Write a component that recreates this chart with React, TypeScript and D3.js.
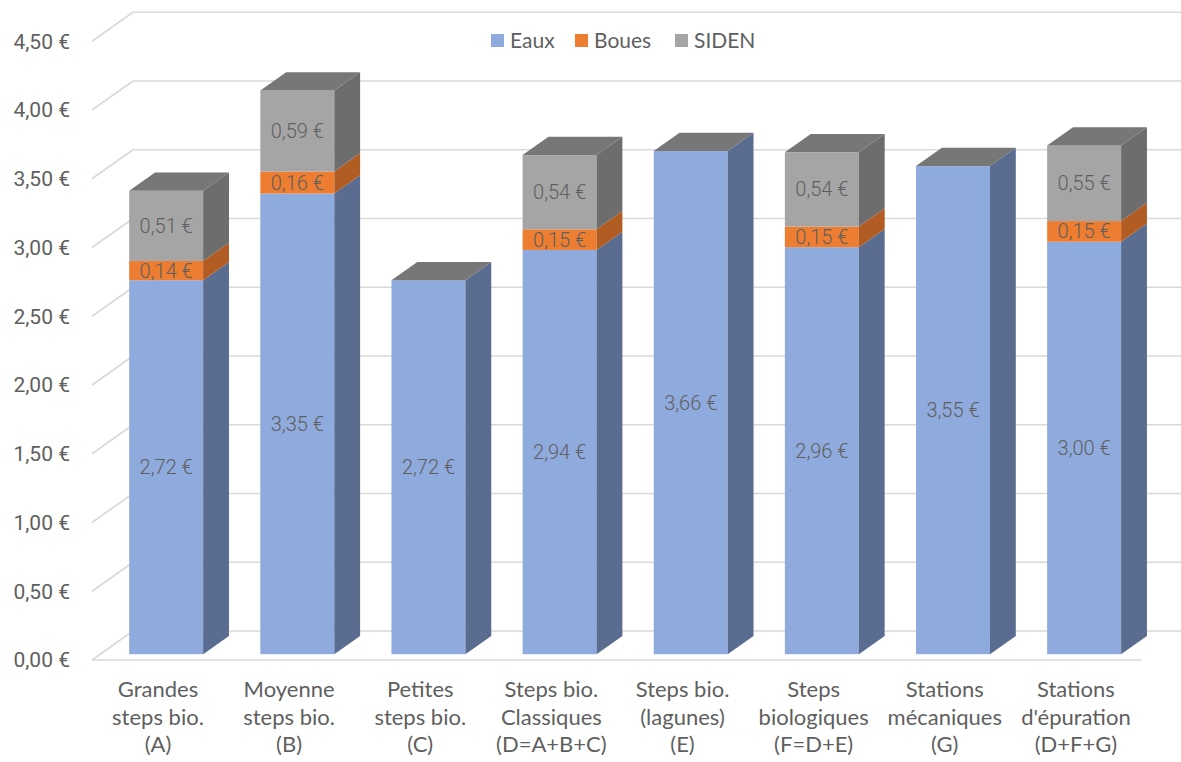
import React from "react";
import * as d3 from "d3";

// Coûts par m³ (€) ventilés par poste
const categories = [
  ["Grandes", "steps bio.", "(A)"],
  ["Moyenne", "steps bio.", "(B)"],
  ["Petites", "steps bio.", "(C)"],
  ["Steps bio.", "Classiques", "(D=A+B+C)"],
  ["Steps bio.", "(lagunes)", "(E)"],
  ["Steps", "biologiques", "(F=D+E)"],
  ["Stations", "mécaniques", "(G)"],
  ["Stations", "d'épuration", "(D+F+G)"],
];
const eaux = [2.72, 3.35, 2.72, 2.94, 3.66, 2.96, 3.55, 3.0];
const boues = [0.14, 0.16, 0, 0.15, 0, 0.15, 0, 0.15];
const siden = [0.51, 0.59, 0, 0.54, 0, 0.54, 0, 0.55];
const seriesNames = ["Eaux", "Boues", "SIDEN"];
const yTicks = [0, 0.5, 1, 1.5, 2, 2.5, 3, 3.5, 4, 4.5];

const W = 1181;
const H = 762;

// face colours per series: front, side, top
const palette = [
  { front: "#8faadc", side: "#5a6d91", top: "#6f82a8" },
  { front: "#ed7d31", side: "#b05c23", top: "#c96a2a" },
  { front: "#a5a5a5", side: "#6d6d6d", top: "#777777" },
];

// oblique projection of the depth axis: full depth of the floor
const DX = 41;
const DY = -29;
const barFront = 0.2;
const barBack = 0.83;

const fmt = (v: number) => v.toFixed(2).replace(".", ",") + " €";

export default function App() {
  const keys = categories.map((c) => c.join(" "));
  const x = d3
    .scaleBand<string>()
    .domain(keys)
    .range([92.4, 1141.5])
    .paddingInner(0.436)
    .paddingOuter(0.218);
  const y = d3.scaleLinear().domain([0, 4.5]).range([660, 41.25]);

  const rows = keys.map((k, i) => ({
    key: k,
    Eaux: eaux[i],
    Boues: boues[i],
    SIDEN: siden[i],
  }));
  const stack = d3.stack<any>().keys(seriesNames)(rows);

  const fx = barFront * DX;
  const fy = barFront * DY;
  const ddx = (barBack - barFront) * DX;
  const ddy = (barBack - barFront) * DY;
  const bw = x.bandwidth();

  const textColor = "#5f5f5f";
  const numFont = "Roboto, 'Noto Sans', sans-serif";
  const catFont = "Lato, 'Open Sans', sans-serif";

  return (
    <svg
      width={W}
      height={H}
      viewBox={`0 0 ${W} ${H}`}
      style={{ position: "absolute", left: 0, top: 0, background: "#fff" }}
    >
      {/* walls: left side diagonals and back-wall gridlines */}
      <g stroke="#d9d9d9" strokeWidth={1.6} fill="none">
        {yTicks.map((t) => (
          <g key={t}>
            <line x1={92} y1={y(t)} x2={92 + DX} y2={y(t) + DY} />
            <line x1={92 + DX} y1={y(t) + DY} x2={W + 2} y2={y(t) + DY} />
          </g>
        ))}
        <line x1={x.range()[0]} y1={y(0)} x2={x.range()[1]} y2={y(0)} />
      </g>

      {/* y axis labels */}
      <g fill={textColor} fontFamily={numFont} fontSize={21} textAnchor="end">
        {yTicks.map((t) => (
          <text key={t} x={70} y={y(t)} dy="0.35em">
            {fmt(t)}
          </text>
        ))}
      </g>

      {/* stacked 3D columns */}
      {keys.map((k, i) => {
        const x0 = (x(k) as number) + fx;
        const x1 = x0 + bw;
        const segs = stack.map((s, si) => {
          const [a, b] = s[i] as unknown as [number, number];
          const yb = y(a) + fy;
          const yt = y(b) + fy;
          return { si, a, b, yb, yt };
        });
        const top = segs[segs.length - 1];
        return (
          <g key={k}>
            {segs.map(({ si, yb, yt, a, b }) =>
              b - a > 0 ? (
                <g key={si}>
                  <rect
                    x={x0}
                    y={yt}
                    width={bw}
                    height={yb - yt}
                    fill={palette[si].front}
                  />
                  <polygon
                    points={`${x1},${yb} ${x1 + ddx},${yb + ddy} ${x1 + ddx},${yt + ddy} ${x1},${yt}`}
                    fill={palette[si].side}
                  />
                </g>
              ) : null
            )}
            {/* the cap belongs to the last series of the stack, even when empty */}
            <polygon
              points={`${x0},${top.yt} ${x1},${top.yt} ${x1 + ddx},${top.yt + ddy} ${x0 + ddx},${top.yt + ddy}`}
              fill={palette[2].top}
            />
            {segs.map(({ si, yb, yt, a, b }) =>
              b - a > 0 ? (
                <text
                  key={"l" + si}
                  x={(x0 + x1) / 2}
                  y={(yb + yt) / 2}
                  dy="0.35em"
                  textAnchor="middle"
                  fill={textColor}
                  fontFamily={numFont}
                  fontWeight={300}
                  fontSize={20}
                >
                  {fmt(b - a)}
                </text>
              ) : null
            )}
          </g>
        );
      })}

      {/* category labels */}
      <g fill={textColor} fontFamily={catFont} fontSize={22} textAnchor="middle">
        {categories.map((lines, i) => (
          <text key={i} x={(x(keys[i]) as number) + bw / 2} y={697}>
            {lines.map((l, j) => (
              <tspan key={j} x={(x(keys[i]) as number) + bw / 2} dy={j === 0 ? 0 : 27.5}>
                {l}
              </tspan>
            ))}
          </text>
        ))}
      </g>

      {/* legend */}
      <g fontFamily={catFont} fontSize={21} fill={textColor}>
        {seriesNames.map((n, i) => {
          const lx = [491, 575, 675][i];
          return (
            <g key={n}>
              <rect x={lx} y={34} width={13} height={13} fill={palette[i].front} />
              <text x={lx + 19} y={41} dy="0.35em">
                {n}
              </text>
            </g>
          );
        })}
      </g>
    </svg>
  );
}
